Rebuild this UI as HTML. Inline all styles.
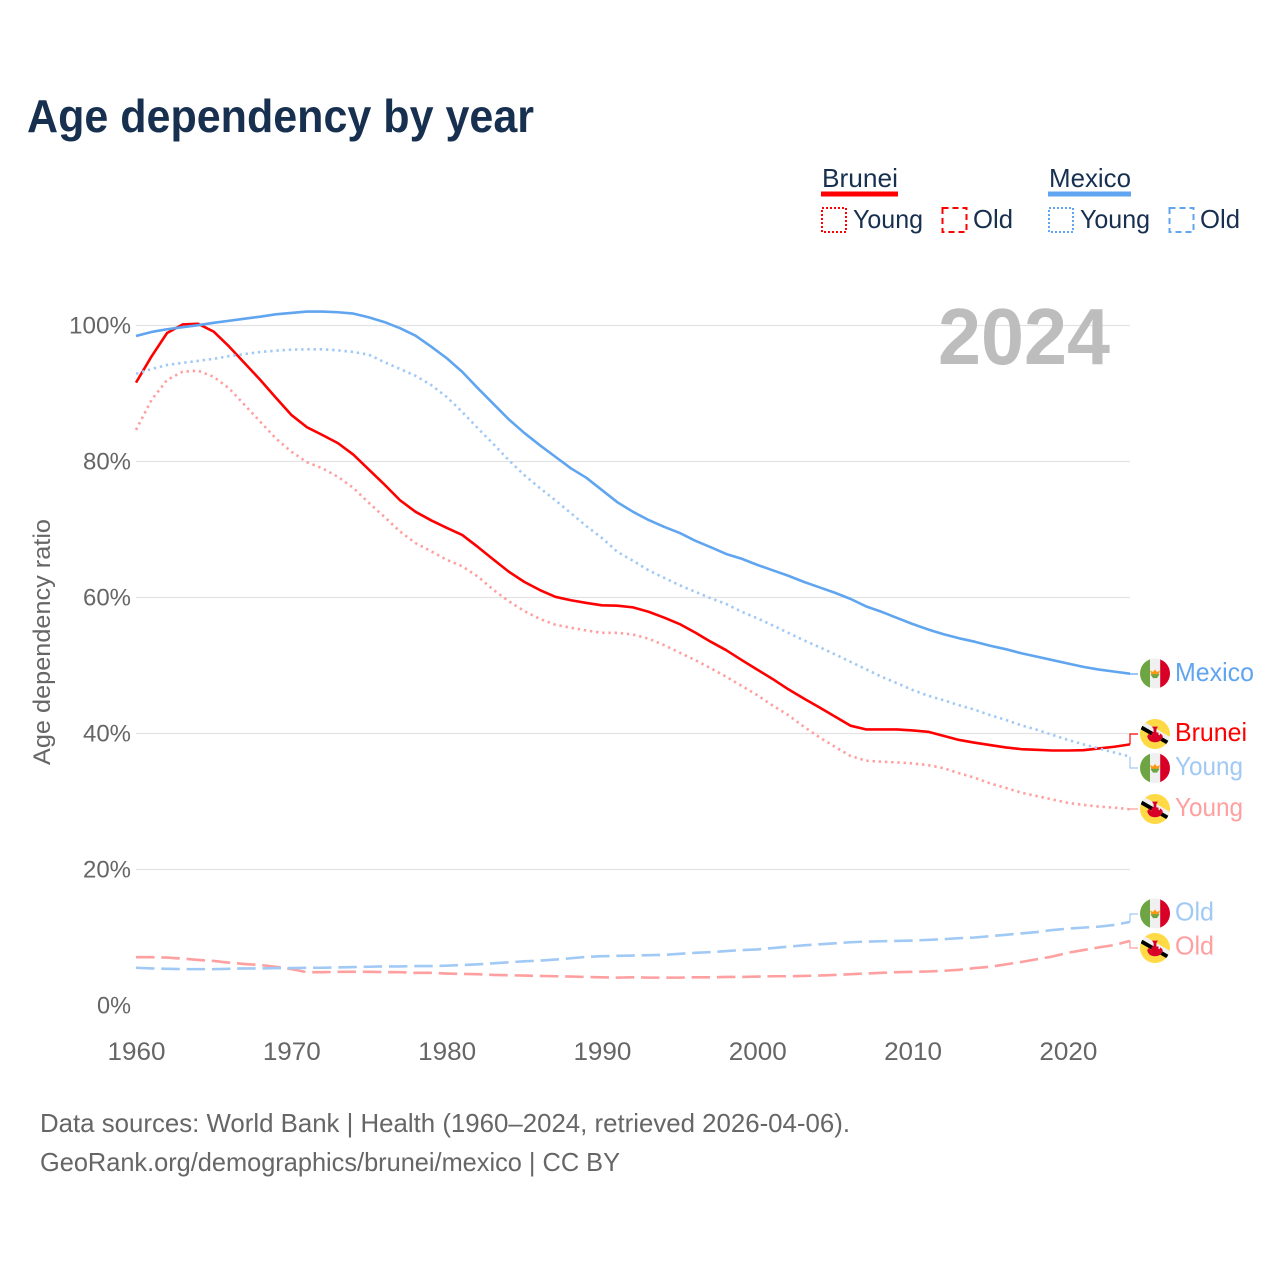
<!DOCTYPE html>
<html lang="en">
<head>
<meta charset="utf-8">
<title>Age dependency by year</title>
<style>
html,body{margin:0;padding:0;background:#fff}
svg{display:block;font-family:"Liberation Sans",sans-serif}
</style>
</head>
<body>
<svg id="chart" xmlns="http://www.w3.org/2000/svg" width="1280" height="1280" viewBox="0 0 1280 1280">
<defs>
<clipPath id="flag-clip"><circle cx="0" cy="0" r="15"/></clipPath>
<g id="flag-mx" clip-path="url(#flag-clip)">
<rect x="-15" y="-15" width="30" height="30" fill="#f0f0f0"/>
<rect x="-15" y="-15" width="10" height="30" fill="#6da544"/>
<rect x="5.2" y="-15" width="10" height="30" fill="#d80027"/>
<path d="M-5 -3 L-2 -1.6 L0 -4 L2 -1.6 L5 -3 L3.6 1 L-3.6 1 Z" fill="#ff9811"/>
<path d="M-4.6 0.8 L4.6 0.8 L2 4.6 L-2 4.6 Z" fill="#6da544"/>
</g>
<g id="flag-bn" clip-path="url(#flag-clip)">
<rect x="-15" y="-15" width="30" height="30" fill="#ffda44"/>
<g transform="rotate(30)">
<rect x="-22" y="-5" width="44" height="4.4" fill="#f0f0f0"/>
<rect x="-22" y="-0.8" width="44" height="3.9" fill="#000"/>
</g>
<path d="M-3 -7.4 L3 -7.4 L1.4 -5 L1.4 -1.5 L3.5 -1.5 L3.5 2.4 L5.6 -0.6 L7.8 2 Q6.6 8.2 0 8.2 Q-6.6 8.2 -7.8 2 L-5.6 -0.6 L-3.5 2.4 L-3.5 -1.5 L-1.4 -1.5 L-1.4 -5 Z" fill="#d80027"/>
</g>
</defs>

<rect width="1280" height="1280" fill="#fff"/>

<text x="27" y="132" font-size="46" font-weight="700" fill="#18304f" textLength="507" lengthAdjust="spacingAndGlyphs">Age dependency by year</text>

<g id="grid"></g>
<g id="y-axis"></g>
<g id="x-axis"></g>
<text transform="translate(50,765) rotate(-90)" font-size="24" fill="#666" textLength="246" lengthAdjust="spacingAndGlyphs">Age dependency ratio</text>

<text x="938" y="364" font-size="80" font-weight="700" fill="#bdbdbd" textLength="172" lengthAdjust="spacingAndGlyphs">2024</text>

<g font-size="26" fill="#18304f">
<text x="822" y="187" textLength="76" lengthAdjust="spacingAndGlyphs">Brunei</text>
<rect x="821" y="191.5" width="77" height="5" fill="#ff0000"/>
<rect x="822" y="208" width="24" height="24" fill="none" stroke="#ff0000" stroke-width="2" stroke-dasharray="2 2"/>
<text x="853" y="228" textLength="70" lengthAdjust="spacingAndGlyphs">Young</text>
<rect x="942.5" y="208" width="24" height="24" fill="none" stroke="#ff0000" stroke-width="2" stroke-dasharray="6 4"/>
<text x="973" y="228" textLength="40" lengthAdjust="spacingAndGlyphs">Old</text>
<text x="1049" y="187" textLength="82" lengthAdjust="spacingAndGlyphs">Mexico</text>
<rect x="1048" y="191.5" width="83" height="5" fill="#60a5ef"/>
<rect x="1049" y="208" width="24" height="24" fill="none" stroke="#60a5ef" stroke-width="2" stroke-dasharray="2 2"/>
<text x="1080" y="228" textLength="70" lengthAdjust="spacingAndGlyphs">Young</text>
<rect x="1169.5" y="208" width="24" height="24" fill="none" stroke="#60a5ef" stroke-width="2" stroke-dasharray="6 4"/>
<text x="1200" y="228" textLength="40" lengthAdjust="spacingAndGlyphs">Old</text>
</g>

<g id="series"></g>
<g id="connectors"></g>

<g font-size="26">
<use href="#flag-mx" x="1155" y="673.5"/>
<text x="1175" y="681" fill="#60a5ef" textLength="79" lengthAdjust="spacingAndGlyphs">Mexico</text>
<use href="#flag-bn" x="1155" y="734"/>
<text x="1175" y="741" fill="#ff0000" textLength="72" lengthAdjust="spacingAndGlyphs">Brunei</text>
<use href="#flag-mx" x="1155" y="768"/>
<text x="1175" y="775" fill="#a0c9f5" textLength="68" lengthAdjust="spacingAndGlyphs">Young</text>
<use href="#flag-bn" x="1155" y="809"/>
<text x="1175" y="816" fill="#ff9f9f" textLength="68" lengthAdjust="spacingAndGlyphs">Young</text>
<use href="#flag-mx" x="1155" y="913.5"/>
<text x="1175" y="920.5" fill="#a0c9f5" textLength="39" lengthAdjust="spacingAndGlyphs">Old</text>
<use href="#flag-bn" x="1155" y="948"/>
<text x="1175" y="954.5" fill="#ff9f9f" textLength="39" lengthAdjust="spacingAndGlyphs">Old</text>
</g>

<g font-size="26" fill="#666">
<text x="40" y="1132" textLength="810" lengthAdjust="spacingAndGlyphs">Data sources: World Bank | Health (1960–2024, retrieved 2026-04-06).</text>
<text x="40" y="1171" textLength="580" lengthAdjust="spacingAndGlyphs">GeoRank.org/demographics/brunei/mexico | CC BY</text>
</g>
</svg>

<script>
const startYear = 1960;
const endYear = 2024;
const yTicks = [0, 20, 40, 60, 80, 100];
const xTicks = [1960, 1970, 1980, 1990, 2000, 2010, 2020];

const bruneiOld = [
  7.1,7.1,7.05,6.9,6.7,6.55,6.3,6.1,5.95,5.7,
  5.35,4.9,4.9,4.95,4.95,4.95,4.9,4.9,4.8,4.8,
  4.7,4.65,4.6,4.5,4.45,4.4,4.35,4.3,4.25,4.2,
  4.15,4.1,4.15,4.1,4.1,4.1,4.15,4.15,4.2,4.2,
  4.25,4.3,4.3,4.35,4.4,4.5,4.6,4.7,4.8,4.9,
  4.95,5.0,5.1,5.25,5.5,5.7,6.05,6.4,6.8,7.2,
  7.75,8.15,8.55,8.9,9.5];
const bruneiYoung = [
  84.65,89.05,92.0,93.2,93.35,92.45,90.75,88.3,85.85,83.4,
  81.45,79.9,79.0,77.75,76.1,73.9,71.85,69.7,68.0,66.8,
  65.55,64.6,63.1,61.15,59.45,58.0,56.85,56.0,55.55,55.15,
  54.8,54.8,54.55,53.95,53.0,51.9,50.8,49.6,48.35,47.0,
  45.65,44.1,42.7,41.0,39.45,38.05,36.7,36.0,35.85,35.75,
  35.6,35.35,34.9,34.15,33.5,32.65,32.0,31.3,30.8,30.3,
  29.8,29.5,29.25,29.1,28.85];
const bruneiTotal = [
  91.6,95.45,98.9,100.15,100.25,99.1,96.9,94.45,92.0,89.4,
  86.85,85.05,83.9,82.7,81.0,78.8,76.6,74.3,72.6,71.35,
  70.25,69.2,67.45,65.6,63.8,62.3,61.1,60.1,59.6,59.2,
  58.85,58.8,58.55,57.9,57.05,56.1,54.85,53.5,52.25,50.8,
  49.4,48.0,46.5,45.15,43.85,42.5,41.15,40.6,40.6,40.6,
  40.45,40.25,39.65,39.05,38.65,38.3,37.95,37.7,37.6,37.5,
  37.5,37.55,37.8,38.05,38.4];
const mexicoOld = [
  5.55,5.45,5.4,5.35,5.35,5.35,5.4,5.45,5.45,5.5,
  5.5,5.55,5.55,5.6,5.65,5.7,5.75,5.75,5.8,5.8,
  5.85,5.95,6.05,6.2,6.35,6.5,6.6,6.75,6.95,7.15,
  7.25,7.3,7.35,7.4,7.45,7.6,7.75,7.85,8.0,8.15,
  8.25,8.45,8.65,8.85,9.0,9.15,9.3,9.4,9.45,9.5,
  9.55,9.65,9.75,9.9,10.0,10.2,10.4,10.6,10.8,11.1,
  11.3,11.45,11.6,11.85,12.3];
const mexicoYoung = [
  92.9,93.6,94.2,94.5,94.8,95.1,95.5,95.8,96.1,96.3,
  96.45,96.5,96.5,96.35,96.1,95.7,94.6,93.6,92.6,91.25,
  89.5,87.3,84.9,82.6,80.2,78.0,76.1,74.3,72.4,70.5,
  68.75,66.7,65.4,64.0,62.9,61.8,60.85,59.9,59.05,57.9,
  56.95,55.9,54.8,53.7,52.7,51.65,50.55,49.45,48.35,47.4,
  46.4,45.55,44.9,44.15,43.5,42.7,42.0,41.2,40.55,39.8,
  39.05,38.4,37.8,37.2,36.6];
const mexicoTotal = [
  98.45,99.05,99.45,99.75,100.05,100.4,100.7,101.0,101.3,101.65,
  101.85,102.05,102.05,101.95,101.75,101.2,100.5,99.6,98.5,96.9,
  95.2,93.2,90.8,88.5,86.2,84.2,82.4,80.7,79.0,77.6,
  75.8,74.0,72.6,71.4,70.4,69.5,68.35,67.4,66.4,65.7,
  64.8,64.0,63.2,62.3,61.5,60.7,59.8,58.7,57.9,57.0,
  56.1,55.3,54.6,54.0,53.5,52.9,52.4,51.8,51.3,50.8,
  50.3,49.8,49.4,49.1,48.8];

const NS = 'http://www.w3.org/2000/svg';
const plotLeft = 136, plotRight = 1130, plotBottom = 1005.5, plotTop = 325.5;
function xScale(year) { return plotLeft + (year - startYear) * (plotRight - plotLeft) / (endYear - startYear); }
function yScale(v) { return plotBottom - v * (plotBottom - plotTop) / 100; }
function make(tag, parent) { const el = document.createElementNS(NS, tag); parent.appendChild(el); return el; }

const gridGroup = document.getElementById('grid');
const yGroup = document.getElementById('y-axis');
const xGroup = document.getElementById('x-axis');

yTicks.forEach(function (t) {
  if (t > 0) {
    const ln = make('line', gridGroup);
    
    
    ln.setAttribute('x1', plotLeft);
    ln.setAttribute('x2', plotRight);
    ln.setAttribute('y1', yScale(t));
    ln.setAttribute('y2', yScale(t));
    ln.setAttribute('stroke', '#e3e3e3');
    ln.setAttribute('stroke-width', '1.3');
  }
  const lb = make('text', yGroup);
  
  
  lb.setAttribute('x', 131);
  lb.setAttribute('y', yScale(t) + 8);
  lb.setAttribute('text-anchor', 'end');
  lb.setAttribute('font-size', '24');
  lb.setAttribute('fill', '#666');
  lb.setAttribute('textLength', t === 100 ? 62 : (t === 0 ? 34 : 48));
  lb.setAttribute('lengthAdjust', 'spacingAndGlyphs');
  lb.textContent = t + '%';
});

xTicks.forEach(function (t) {
  const lb = make('text', xGroup);
  
  
  lb.setAttribute('x', xScale(t) + 0.5);
  lb.setAttribute('y', 1060);
  lb.setAttribute('text-anchor', 'middle');
  lb.setAttribute('font-size', '25');
  lb.setAttribute('fill', '#666');
  lb.setAttribute('textLength', 58);
  lb.setAttribute('lengthAdjust', 'spacingAndGlyphs');
  lb.textContent = t;
});

const pink = '#ff9f9f', red = '#ff0000', sky = '#a0c9f5', blue = '#60a5ef';
const seriesGroup = document.getElementById('series');
function drawLine(values, color, dash, name) {
  const p = make('polyline', seriesGroup);
  
  
  p.setAttribute('points', values.map(function (v, i) { return xScale(startYear + i).toFixed(2) + ',' + yScale(v).toFixed(2); }).join(' '));
  p.setAttribute('fill', 'none');
  p.setAttribute('stroke', color);
  p.setAttribute('stroke-width', '2.6');
  p.setAttribute('stroke-linejoin', 'round');
  if (dash) p.setAttribute('stroke-dasharray', dash);
}
drawLine(bruneiOld, pink, '18.5 6.8', 'line-brunei-old');
drawLine(bruneiYoung, pink, '2.4 3.8', 'line-brunei-young');
drawLine(bruneiTotal, red, '', 'line-brunei-total');
drawLine(mexicoOld, sky, '18.5 6.8', 'line-mexico-old');
drawLine(mexicoYoung, sky, '2.4 3.8', 'line-mexico-young');
drawLine(mexicoTotal, blue, '', 'line-mexico-total');

const connectorGroup = document.getElementById('connectors');
function drawConnector(values, targetY, color, name) {
  const startY = yScale(values[values.length - 1]);
  const c = make('path', connectorGroup);
  
  
  c.setAttribute('d', 'M' + plotRight + ' ' + startY + ' V' + targetY + ' H1138');
  c.setAttribute('fill', 'none');
  c.setAttribute('stroke', color);
  c.setAttribute('stroke-width', '1.2');
}
drawConnector(mexicoTotal, 674, blue, 'connector-mexico-total');
drawConnector(bruneiTotal, 734, red, 'connector-brunei-total');
drawConnector(mexicoYoung, 768, sky, 'connector-mexico-young');
drawConnector(bruneiYoung, 809, pink, 'connector-brunei-young');
drawConnector(mexicoOld, 914, sky, 'connector-mexico-old');
drawConnector(bruneiOld, 948, pink, 'connector-brunei-old');
</script>
</body>
</html>
